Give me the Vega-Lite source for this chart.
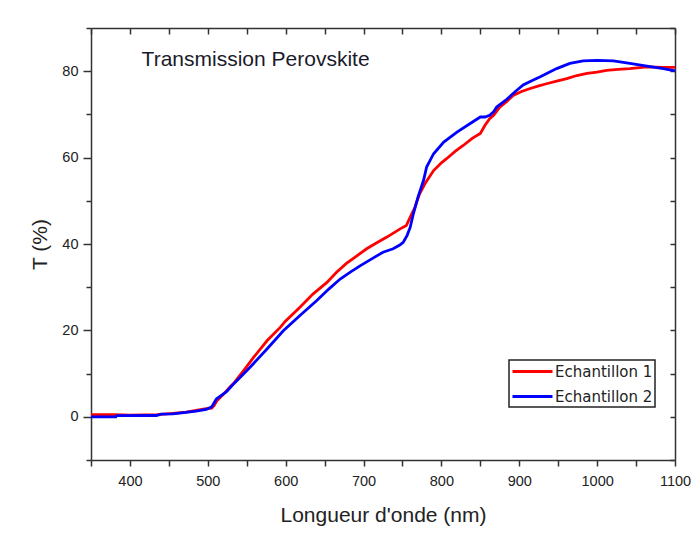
{
  "$schema": "https://vega.github.io/schema/vega-lite/v6.json",
  "width": 584,
  "height": 432,
  "autosize": {"type": "none"},
  "padding": {"left": 91, "top": 28, "right": 22, "bottom": 81},
  "background": "white",
  "config": {"font": "Liberation Sans", "view": {"stroke": null}},
  "layer": [
    {
      "data": {"values": [
        {"nm": 350, "T": 0.5, "serie": "Echantillon 1"},
        {"nm": 380, "T": 0.5, "serie": "Echantillon 1"},
        {"nm": 400, "T": 0.4, "serie": "Echantillon 1"},
        {"nm": 435, "T": 0.5, "serie": "Echantillon 1"},
        {"nm": 455, "T": 0.8, "serie": "Echantillon 1"},
        {"nm": 472, "T": 1.1, "serie": "Echantillon 1"},
        {"nm": 485, "T": 1.5, "serie": "Echantillon 1"},
        {"nm": 498, "T": 1.9, "serie": "Echantillon 1"},
        {"nm": 505, "T": 2.0, "serie": "Echantillon 1"},
        {"nm": 508, "T": 2.6, "serie": "Echantillon 1"},
        {"nm": 512, "T": 3.8, "serie": "Echantillon 1"},
        {"nm": 520, "T": 5.2, "serie": "Echantillon 1"},
        {"nm": 529, "T": 7.0, "serie": "Echantillon 1"},
        {"nm": 533, "T": 7.7, "serie": "Echantillon 1"},
        {"nm": 546, "T": 10.7, "serie": "Echantillon 1"},
        {"nm": 559, "T": 13.8, "serie": "Echantillon 1"},
        {"nm": 576, "T": 17.6, "serie": "Echantillon 1"},
        {"nm": 593, "T": 20.7, "serie": "Echantillon 1"},
        {"nm": 600, "T": 22.2, "serie": "Echantillon 1"},
        {"nm": 618, "T": 25.3, "serie": "Echantillon 1"},
        {"nm": 635, "T": 28.4, "serie": "Echantillon 1"},
        {"nm": 653, "T": 31.1, "serie": "Echantillon 1"},
        {"nm": 665, "T": 33.4, "serie": "Echantillon 1"},
        {"nm": 678, "T": 35.5, "serie": "Echantillon 1"},
        {"nm": 691, "T": 37.2, "serie": "Echantillon 1"},
        {"nm": 704, "T": 38.9, "serie": "Echantillon 1"},
        {"nm": 717, "T": 40.3, "serie": "Echantillon 1"},
        {"nm": 730, "T": 41.6, "serie": "Echantillon 1"},
        {"nm": 747, "T": 43.5, "serie": "Echantillon 1"},
        {"nm": 755, "T": 44.3, "serie": "Echantillon 1"},
        {"nm": 760, "T": 46.2, "serie": "Echantillon 1"},
        {"nm": 766, "T": 48.5, "serie": "Echantillon 1"},
        {"nm": 772, "T": 51.6, "serie": "Echantillon 1"},
        {"nm": 779, "T": 54.0, "serie": "Echantillon 1"},
        {"nm": 790, "T": 57.0, "serie": "Echantillon 1"},
        {"nm": 800, "T": 58.8, "serie": "Echantillon 1"},
        {"nm": 807, "T": 59.8, "serie": "Echantillon 1"},
        {"nm": 818, "T": 61.5, "serie": "Echantillon 1"},
        {"nm": 828, "T": 62.8, "serie": "Echantillon 1"},
        {"nm": 840, "T": 64.5, "serie": "Echantillon 1"},
        {"nm": 850, "T": 65.6, "serie": "Echantillon 1"},
        {"nm": 856, "T": 67.5, "serie": "Echantillon 1"},
        {"nm": 862, "T": 69.0, "serie": "Echantillon 1"},
        {"nm": 867, "T": 69.8, "serie": "Echantillon 1"},
        {"nm": 875, "T": 71.7, "serie": "Echantillon 1"},
        {"nm": 884, "T": 73.0, "serie": "Echantillon 1"},
        {"nm": 892, "T": 74.4, "serie": "Echantillon 1"},
        {"nm": 903, "T": 75.3, "serie": "Echantillon 1"},
        {"nm": 914, "T": 76.0, "serie": "Echantillon 1"},
        {"nm": 925, "T": 76.6, "serie": "Echantillon 1"},
        {"nm": 935, "T": 77.1, "serie": "Echantillon 1"},
        {"nm": 948, "T": 77.7, "serie": "Echantillon 1"},
        {"nm": 961, "T": 78.3, "serie": "Echantillon 1"},
        {"nm": 974, "T": 79.0, "serie": "Echantillon 1"},
        {"nm": 987, "T": 79.5, "serie": "Echantillon 1"},
        {"nm": 1000, "T": 79.8, "serie": "Echantillon 1"},
        {"nm": 1012, "T": 80.2, "serie": "Echantillon 1"},
        {"nm": 1027, "T": 80.4, "serie": "Echantillon 1"},
        {"nm": 1042, "T": 80.6, "serie": "Echantillon 1"},
        {"nm": 1064, "T": 81.0, "serie": "Echantillon 1"},
        {"nm": 1085, "T": 80.9, "serie": "Echantillon 1"},
        {"nm": 1100, "T": 80.9, "serie": "Echantillon 1"},
        {"nm": 350, "T": 0.0, "serie": "Echantillon 2"},
        {"nm": 382, "T": 0.0, "serie": "Echantillon 2"},
        {"nm": 383, "T": 0.25, "serie": "Echantillon 2"},
        {"nm": 434, "T": 0.3, "serie": "Echantillon 2"},
        {"nm": 440, "T": 0.6, "serie": "Echantillon 2"},
        {"nm": 455, "T": 0.7, "serie": "Echantillon 2"},
        {"nm": 472, "T": 1.0, "serie": "Echantillon 2"},
        {"nm": 485, "T": 1.3, "serie": "Echantillon 2"},
        {"nm": 498, "T": 1.7, "serie": "Echantillon 2"},
        {"nm": 505, "T": 2.3, "serie": "Echantillon 2"},
        {"nm": 511, "T": 4.1, "serie": "Echantillon 2"},
        {"nm": 524, "T": 5.8, "serie": "Echantillon 2"},
        {"nm": 533, "T": 7.6, "serie": "Echantillon 2"},
        {"nm": 537, "T": 8.3, "serie": "Echantillon 2"},
        {"nm": 554, "T": 11.4, "serie": "Echantillon 2"},
        {"nm": 576, "T": 15.7, "serie": "Echantillon 2"},
        {"nm": 597, "T": 19.9, "serie": "Echantillon 2"},
        {"nm": 618, "T": 23.4, "serie": "Echantillon 2"},
        {"nm": 640, "T": 26.9, "serie": "Echantillon 2"},
        {"nm": 655, "T": 29.5, "serie": "Echantillon 2"},
        {"nm": 670, "T": 31.9, "serie": "Echantillon 2"},
        {"nm": 683, "T": 33.5, "serie": "Echantillon 2"},
        {"nm": 696, "T": 35.0, "serie": "Echantillon 2"},
        {"nm": 710, "T": 36.5, "serie": "Echantillon 2"},
        {"nm": 725, "T": 38.1, "serie": "Echantillon 2"},
        {"nm": 738, "T": 38.9, "serie": "Echantillon 2"},
        {"nm": 746, "T": 39.7, "serie": "Echantillon 2"},
        {"nm": 751, "T": 40.4, "serie": "Echantillon 2"},
        {"nm": 756, "T": 42.0, "serie": "Echantillon 2"},
        {"nm": 760, "T": 43.9, "serie": "Echantillon 2"},
        {"nm": 764, "T": 47.0, "serie": "Echantillon 2"},
        {"nm": 770, "T": 50.9, "serie": "Echantillon 2"},
        {"nm": 777, "T": 54.7, "serie": "Echantillon 2"},
        {"nm": 781, "T": 57.8, "serie": "Echantillon 2"},
        {"nm": 790, "T": 60.9, "serie": "Echantillon 2"},
        {"nm": 803, "T": 63.6, "serie": "Echantillon 2"},
        {"nm": 820, "T": 65.9, "serie": "Echantillon 2"},
        {"nm": 837, "T": 67.9, "serie": "Echantillon 2"},
        {"nm": 850, "T": 69.4, "serie": "Echantillon 2"},
        {"nm": 856, "T": 69.4, "serie": "Echantillon 2"},
        {"nm": 862, "T": 69.8, "serie": "Echantillon 2"},
        {"nm": 867, "T": 70.6, "serie": "Echantillon 2"},
        {"nm": 871, "T": 71.7, "serie": "Echantillon 2"},
        {"nm": 884, "T": 73.5, "serie": "Echantillon 2"},
        {"nm": 895, "T": 75.3, "serie": "Echantillon 2"},
        {"nm": 905, "T": 76.8, "serie": "Echantillon 2"},
        {"nm": 916, "T": 77.8, "serie": "Echantillon 2"},
        {"nm": 927, "T": 78.7, "serie": "Echantillon 2"},
        {"nm": 948, "T": 80.6, "serie": "Echantillon 2"},
        {"nm": 965, "T": 81.8, "serie": "Echantillon 2"},
        {"nm": 982, "T": 82.4, "serie": "Echantillon 2"},
        {"nm": 1000, "T": 82.5, "serie": "Echantillon 2"},
        {"nm": 1021, "T": 82.4, "serie": "Echantillon 2"},
        {"nm": 1042, "T": 81.8, "serie": "Echantillon 2"},
        {"nm": 1064, "T": 81.2, "serie": "Echantillon 2"},
        {"nm": 1085, "T": 80.6, "serie": "Echantillon 2"},
        {"nm": 1100, "T": 80.1, "serie": "Echantillon 2"}
      ]},
      "mark": {"type": "line", "strokeWidth": 2.8},
      "encoding": {
        "x": {
          "field": "nm", "type": "quantitative",
          "scale": {"domain": [350, 1100], "nice": false, "zero": false},
          "axis": {
            "orient": "bottom", "title": "Longueur d'onde (nm)",
            "values": [350, 400, 450, 500, 550, 600, 650, 700, 750, 800, 850, 900, 950, 1000, 1050, 1100],
            "format": "d",
            "labelExpr": "datum.value % 100 === 0 ? datum.label : ''",
            "grid": false, "tickSize": 6, "labelPadding": 8, "labelFontSize": 14.5,
            "labelColor": "#222", "labelFlush": false, "labelOverlap": false,
            "titleFontSize": 21, "titleFontWeight": "normal", "titleColor": "#222", "titlePadding": 17,
            "domainColor": "#333", "domainWidth": 1.5, "tickColor": "#333", "tickWidth": 1.5
          }
        },
        "y": {
          "field": "T", "type": "quantitative",
          "scale": {"domain": [-10, 90], "nice": false, "zero": false},
          "axis": {
            "orient": "left", "title": "T (%)",
            "values": [-10, 0, 10, 20, 30, 40, 50, 60, 70, 80, 90],
            "labelExpr": "datum.value % 20 === 0 ? datum.label : ''",
            "grid": false,
            "tickSize": {"condition": {"test": "datum.value % 20 === 0", "value": 8}, "value": 5},
            "labelPadding": 5, "labelFontSize": 14.5, "labelColor": "#222",
            "labelFlush": false, "labelOverlap": false,
            "titleFontSize": 21, "titleFontWeight": "normal", "titleColor": "#222", "titlePadding": 11,
            "domainColor": "#333", "domainWidth": 1.5, "tickColor": "#333", "tickWidth": 1.5
          }
        },
        "color": {
          "field": "serie", "type": "nominal",
          "scale": {"domain": ["Echantillon 1", "Echantillon 2"], "range": ["#ff0000", "#0000ff"]},
          "legend": {
            "orient": "none", "legendX": 418, "legendY": 332, "title": null,
            "symbolType": "M-1,0H4", "symbolSize": 256, "symbolStrokeWidth": 3,
            "labelFont": "DejaVu Sans", "labelFontSize": 15, "labelColor": "#222", "labelOffset": 25,
            "strokeColor": "#222", "fillColor": "white", "padding": 2, "rowPadding": 7,
            "labelLimit": 300,
            "encode": {"legend": {"update": {"strokeWidth": {"value": 1.5}}}}
          }
        }
      }
    },
    {
      "data": {"values": [{"label": "Transmission Perovskite"}]},
      "mark": {"type": "text", "align": "left", "baseline": "middle", "fontSize": 21, "color": "#1a1a2a"},
      "encoding": {
        "x": {
          "datum": 415, "type": "quantitative",
          "axis": {
            "orient": "top", "title": null, "labels": false, "grid": false,
            "values": [350, 400, 450, 500, 550, 600, 650, 700, 750, 800, 850, 900, 950, 1000, 1050, 1100],
            "tickSize": -6, "domainColor": "#333", "domainWidth": 1.5, "tickColor": "#333", "tickWidth": 1.5
          }
        },
        "y": {
          "datum": 82.5, "type": "quantitative",
          "axis": {
            "orient": "right", "title": null, "labels": false, "grid": false,
            "values": [-10, 0, 10, 20, 30, 40, 50, 60, 70, 80, 90],
            "tickSize": -5, "domainColor": "#333", "domainWidth": 1.5, "tickColor": "#333", "tickWidth": 1.5
          }
        },
        "text": {"field": "label"}
      }
    }
  ],
  "resolve": {"axis": {"x": "independent", "y": "independent"}}
}
